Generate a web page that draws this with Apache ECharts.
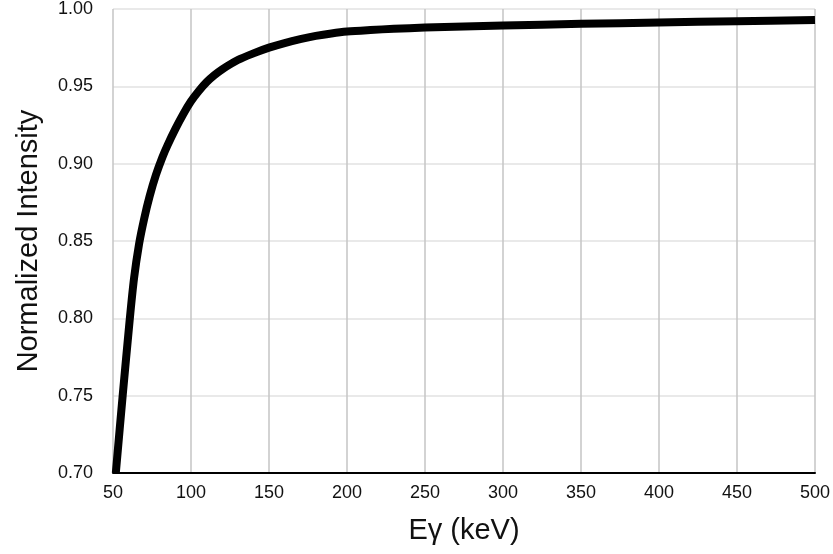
<!DOCTYPE html>
<html>
<head>
<meta charset="utf-8">
<script src="https://cdn.jsdelivr.net/npm/echarts@6/dist/echarts.min.js"></script>
<style>
  html, body { margin: 0; padding: 0; background: #ffffff; }
  #chart { width: 833px; height: 554px; }
</style>
</head>
<body>
<div id="chart"></div>
<script>
// Photon energy (keV) and the normalized intensity at each energy
const energyKeV = [51.8, 56.2, 60.7, 63.5, 66.7, 70.0, 73.5, 77.5, 81.6, 85, 90, 95, 100, 105, 110, 115, 120, 130, 140, 150, 160, 170, 180, 190, 200, 215, 230, 250, 275, 300, 350, 400, 450, 500];
const intensity = [0.700, 0.750, 0.799, 0.826, 0.848, 0.8645, 0.879, 0.8926, 0.904, 0.912, 0.9225, 0.932, 0.9403, 0.947, 0.9527, 0.9572, 0.961, 0.967, 0.9713, 0.9750, 0.9780, 0.9805, 0.9826, 0.9842, 0.9854, 0.9864, 0.9872, 0.9880, 0.9887, 0.9893, 0.9904, 0.9913, 0.9921, 0.9929];

// Axis tick settings
const xTicks = { min: 50, max: 500, step: 50 };
const yTicks = { min: 0.70, max: 1.00, step: 0.05 };

const points = energyKeV.map((e, i) => [e, intensity[i]]);
const FONT = 'Liberation Sans, Arial, Helvetica, sans-serif';

const chart = echarts.init(document.getElementById('chart'), null, { renderer: 'canvas' });
chart.setOption({
  animation: false,
  backgroundColor: '#ffffff',
  grid: { left: 113, right: 17, top: 8, bottom: 81, containLabel: false },
  xAxis: {
    type: 'value',
    min: xTicks.min,
    max: xTicks.max,
    interval: xTicks.step,
    name: 'E\u03b3 (keV)',
    nameLocation: 'middle',
    nameGap: 43,
    nameTextStyle: { fontFamily: FONT, fontSize: 29, color: '#111' },
    axisLine: { show: true, onZero: false, lineStyle: { color: '#000', width: 2 } },
    axisTick: { show: false },
    axisLabel: { fontFamily: FONT, fontSize: 18, color: '#111', margin: 11 },
    splitLine: { show: true, lineStyle: { color: '#c4c4c4', width: 1.5 } }
  },
  yAxis: {
    type: 'value',
    min: yTicks.min,
    max: yTicks.max,
    interval: yTicks.step,
    name: 'Normalized Intensity',
    nameLocation: 'middle',
    nameGap: 70,
    nameTextStyle: { fontFamily: FONT, fontSize: 29, color: '#111' },
    axisLine: { show: false },
    axisTick: { show: false },
    axisLabel: {
      fontFamily: FONT, fontSize: 18, color: '#111', margin: 20,
      formatter: v => v.toFixed(2)
    },
    splitLine: { show: true, lineStyle: { color: '#e2e2e2', width: 1.5 } }
  },
  series: [{
    type: 'line',
    data: points,
    smooth: 0.3,
    showSymbol: false,
    clip: true,
    lineStyle: { color: '#000', width: 8, cap: 'butt', join: 'round' }
  }]
});
</script>
</body>
</html>
